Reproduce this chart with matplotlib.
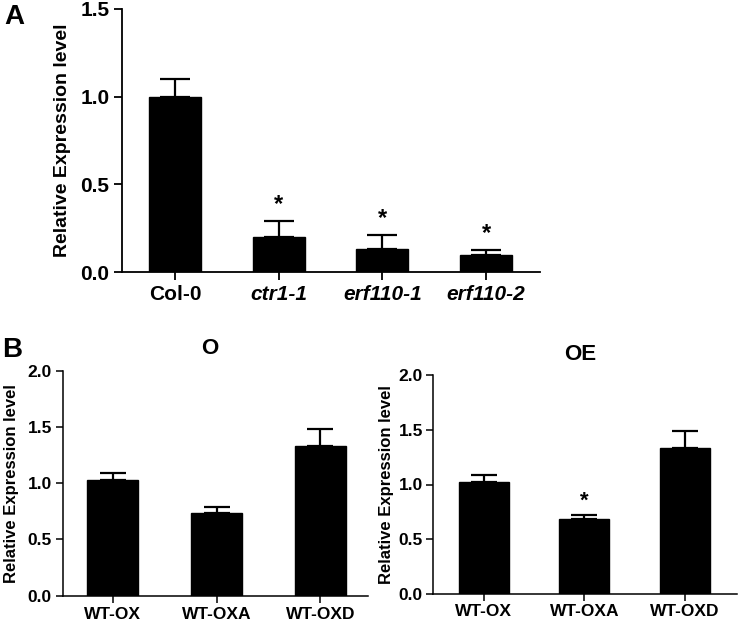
import matplotlib
matplotlib.use("Agg")
import matplotlib.pyplot as plt

plt.rcParams['font.family'] = ['Liberation Sans', 'DejaVu Sans']
plt.rcParams['font.weight'] = 'bold'

# Panel A data
a_cats = ["Col-0", "ctr1-1", "erf110-1", "erf110-2"]
a_vals = [1.00, 0.20, 0.13, 0.097]
a_errs = [0.10, 0.09, 0.08, 0.027]
a_sig = [False, True, True, True]
a_yticks = [0.0, 0.5, 1.0, 1.5]

# Panel B data
b_cats = ["WT-OX", "WT-OXA", "WT-OXD"]
b_left_vals = [1.026, 0.735, 1.33]
b_left_errs = [0.062, 0.054, 0.15]
b_left_sig = [False, False, False]
b_right_vals = [1.026, 0.688, 1.333]
b_right_errs = [0.061, 0.032, 0.153]
b_right_sig = [False, True, False]
b_yticks = [0.0, 0.5, 1.0, 1.5, 2.0]

W, H = 738, 626
fig = plt.figure(figsize=(W / 100, H / 100), dpi=100)


def ax_px(x0, x1, y_top, y_bot):
    return fig.add_axes([x0 / W, 1 - y_bot / H, (x1 - x0) / W, (y_bot - y_top) / H])


def style(ax, lw, ticklen, fs, pad=3):
    for s in ['top', 'right']:
        ax.spines[s].set_visible(False)
    for s in ['left', 'bottom']:
        ax.spines[s].set_linewidth(lw)
    ax.tick_params(width=lw, length=ticklen, labelsize=fs, direction='out', pad=pad)


def draw(ax, cats, vals, errs, sig, width, capsize, star_off, star_fs, xl, yl):
    x = list(range(len(cats)))
    ax.bar(x, vals, width=width, color='black', edgecolor='black')
    ax.errorbar(x, vals, yerr=[[0] * len(errs), errs], fmt='none', ecolor='black',
                elinewidth=1.6, capsize=capsize, capthick=1.6)
    for xi, v, e, s in zip(x, vals, errs, sig):
        if s:
            ax.text(xi, v + e + star_off, '*', ha='center', va='bottom', fontsize=star_fs,
                    fontweight='bold')
    ax.set_xlim(*xl)
    ax.set_ylim(*yl)


# Panel A
axA = ax_px(122, 540, 9, 272)
draw(axA, a_cats, a_vals, a_errs, a_sig, 0.5, 11, 0.03, 17, (-0.51, 3.52), (0, 1.5))
style(axA, 1.3, 6, 15)
axA.set_yticks(a_yticks)
axA.set_yticklabels([f"{t:.1f}" for t in a_yticks], fontsize=15, fontweight='bold')
axA.set_xticks(range(len(a_cats)))
axA.set_xticklabels(a_cats, fontsize=15, fontweight='bold')
for i, lab in enumerate(axA.get_xticklabels()):
    if i > 0:
        lab.set_fontstyle('italic')
axA.set_ylabel("Relative Expression level", fontsize=14, fontweight='bold', labelpad=7)
fig.text(4 / W, 1 - 17 / H, "A", fontsize=20, fontweight='bold', va='center', ha='left')

# Panel B left
axB1 = ax_px(63, 368, 370.7, 595.7)
draw(axB1, b_cats, b_left_vals, b_left_errs, b_left_sig, 0.49, 9.5, 0.03, 16, (-0.48, 2.46), (0, 2.0))
style(axB1, 1.1, 5, 12.5)
axB1.set_yticks(b_yticks)
axB1.set_yticklabels([f"{t:.1f}" for t in b_yticks], fontsize=12.5, fontweight='bold')
axB1.set_xticks(range(len(b_cats)))
axB1.set_xticklabels(b_cats, fontsize=12.5, fontweight='bold')
axB1.set_ylabel("Relative Expression level", fontsize=12, fontweight='bold', labelpad=6)
fig.text(210 / W, 1 - 348 / H, "O", fontsize=16, fontweight='bold', ha='center', va='center')
fig.text(2 / W, 1 - 350 / H, "B", fontsize=20, fontweight='bold', va='center', ha='left')

# Panel B right
axB2 = ax_px(432.7, 737, 375, 594)
draw(axB2, b_cats, b_right_vals, b_right_errs, b_right_sig, 0.5, 9.5, 0.03, 16, (-0.51, 2.52), (0, 2.0))
style(axB2, 1.1, 5, 12.5, pad=2)
axB2.set_yticks(b_yticks)
axB2.set_yticklabels([f"{t:.1f}" for t in b_yticks], fontsize=12.5, fontweight='bold')
axB2.set_xticks(range(len(b_cats)))
axB2.set_xticklabels(b_cats, fontsize=12.5, fontweight='bold')
axB2.set_ylabel("Relative Expression level", fontsize=12, fontweight='bold', labelpad=3)
fig.text(580 / W, 1 - 355 / H, "OE", fontsize=16, fontweight='bold', ha='center', va='center')

fig.savefig("out.png", dpi=100)
